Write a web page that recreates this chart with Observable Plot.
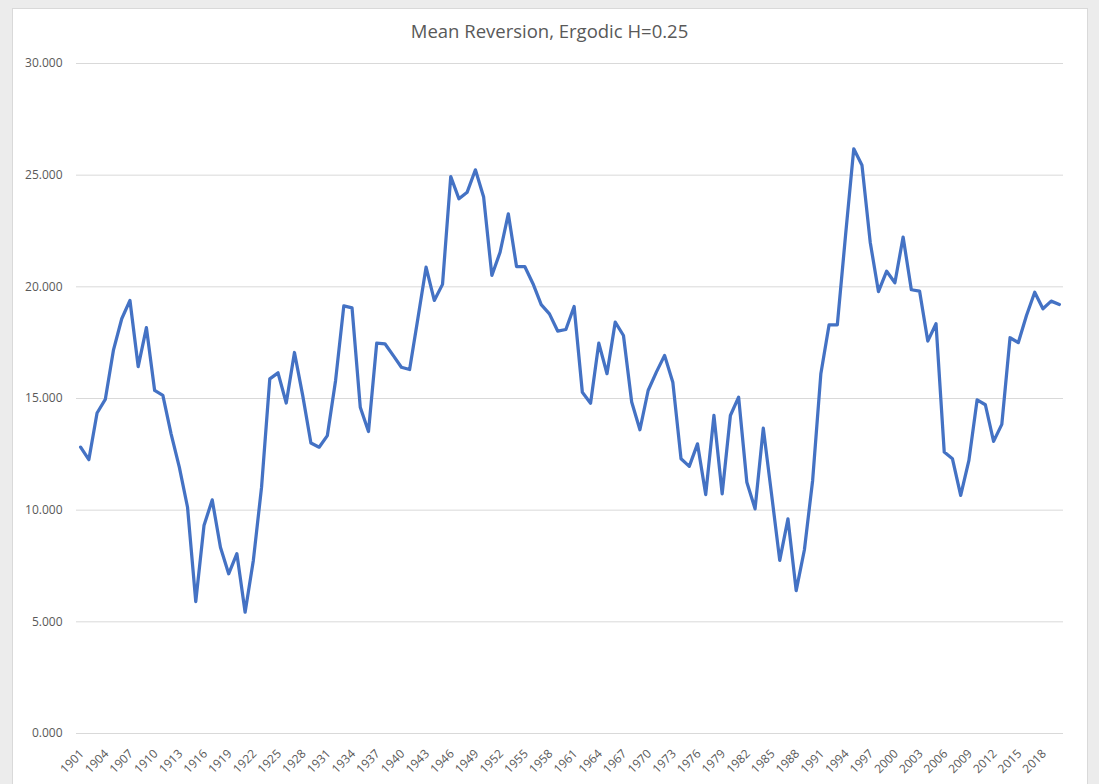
<!DOCTYPE html>
<html>
<head>
<meta charset="utf-8">
<script src="https://cdn.jsdelivr.net/npm/d3@7"></script>
<script src="https://cdn.jsdelivr.net/npm/@observablehq/plot@0.6"></script>
<style>
  html, body { margin: 0; padding: 0; }
  body { width: 1099px; height: 784px; overflow: hidden; background: #ececec; }
  #wrap { position: relative; width: 1099px; height: 784px; }
  #frame { position: absolute; left: 12px; top: 8px; width: 1074px; height: 800px;
           background: #fff; border: 1px solid #d9d9d9; }
  #title { position: absolute; left: 0; top: 21px; width: 1099px; text-align: center;
           font-family: "Open Sans", sans-serif; font-size: 18.5px; line-height: 20px; color: #595959; }
  #chart { position: absolute; left: 0; top: 0; }
</style>
</head>
<body>
<div id="wrap">
  <div id="frame"></div>
  <div id="chart"></div>
  <div id="title">Mean Reversion, Ergodic H=0.25</div>
</div>
<script>
const years = d3.range(1901, 2021);
const values = [
  12.82, 12.26, 14.35, 14.96, 17.18, 18.57, 19.39, 16.43, 18.17, 15.36,
  15.14, 13.42, 11.93, 10.13, 5.91, 9.31, 10.46, 8.34, 7.15, 8.05,
  5.43, 7.75, 11.03, 15.88, 16.15, 14.80, 17.06, 15.14, 13.01, 12.82,
  13.34, 15.81, 19.15, 19.06, 14.61, 13.52, 17.48, 17.45, 16.93, 16.40,
  16.30, 18.57, 20.88, 19.39, 20.11, 24.94, 23.94, 24.24, 25.24, 24.02,
  20.51, 21.55, 23.27, 20.91, 20.91, 20.14, 19.20, 18.79, 18.02, 18.09,
  19.12, 15.28, 14.79, 17.48, 16.11, 18.42, 17.82, 14.84, 13.60, 15.36,
  16.18, 16.93, 15.73, 12.30, 11.96, 12.97, 10.70, 14.24, 10.73, 14.24,
  15.06, 11.25, 10.06, 13.67, 10.73, 7.75, 9.61, 6.40, 8.23, 11.33,
  16.11, 18.30, 18.30, 22.30, 26.18, 25.44, 22.00, 19.79, 20.70, 20.18,
  22.23, 19.87, 19.81, 17.57, 18.35, 12.60, 12.30, 10.66, 12.23, 14.94,
  14.72, 13.08, 13.84, 17.72, 17.50, 18.72, 19.76, 19.02, 19.36, 19.21
];
const xTickLabels = [1901, 1904, 1907, 1910, 1913, 1916, 1919, 1922, 1925, 1928,
  1931, 1934, 1937, 1940, 1943, 1946, 1949, 1952, 1955, 1958, 1961, 1964, 1967,
  1970, 1973, 1976, 1979, 1982, 1985, 1988, 1991, 1994, 1997, 2000, 2003, 2006,
  2009, 2012, 2015, 2018];
const yTicks = [0, 5, 10, 15, 20, 25, 30];

const data = years.map((y, i) => ({year: y, value: values[i]}));

const chart = Plot.plot({
  width: 1099,
  height: 784,
  marginLeft: 76,
  marginRight: 36,
  marginTop: 63,
  marginBottom: 51,
  style: {background: "transparent", fontFamily: "'Open Sans', sans-serif", fontSize: "12px", color: "#595959"},
  x: {type: "point", domain: years, padding: 0.5, round: false, axis: null},
  y: {domain: [0, 30], axis: null},
  marks: [
    Plot.ruleY(yTicks, {stroke: "#d9d9d9", strokeWidth: 1}),
    Plot.text(yTicks, {y: d => d, text: d => d3.format(".3f")(d),
      frameAnchor: "left", textAnchor: "end", dx: -14, fill: "#595959", fontSize: 12}),
    Plot.line(data, {x: "year", y: "value", stroke: "#4472C4", strokeWidth: 3.25,
      strokeLinejoin: "round", strokeLinecap: "round"}),
    Plot.text(xTickLabels, {x: d => d, y: 0, text: d => String(d), rotate: -45,
      textAnchor: "end", lineAnchor: "bottom", dx: 4, dy: 21, fill: "#595959", fontSize: 12})
  ]
});
document.getElementById("chart").appendChild(chart);
</script>
</body>
</html>
